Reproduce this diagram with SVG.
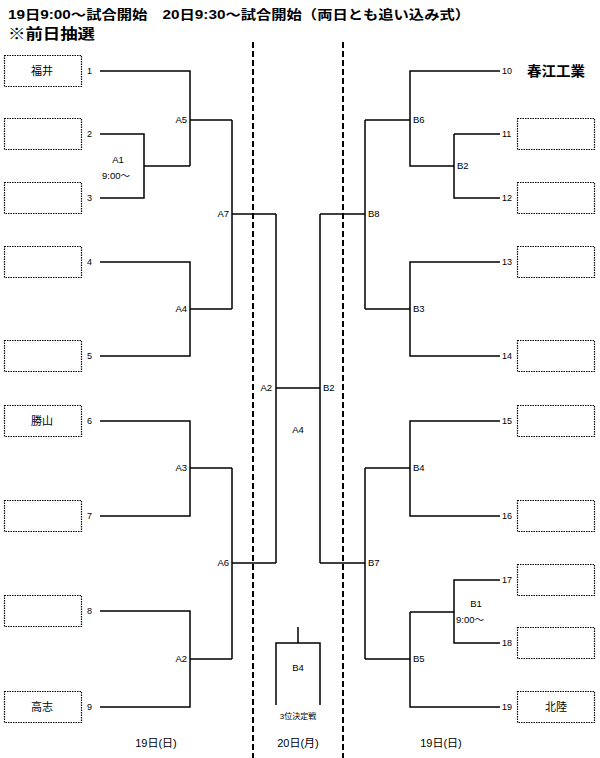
<svg xmlns="http://www.w3.org/2000/svg" width="600" height="758" viewBox="0 0 600 758">
<style>
text{font-family:"Liberation Sans","Noto Sans CJK JP",sans-serif;fill:#000}
.t1{font-size:13px;font-weight:bold}
.t2{font-size:15px;font-weight:bold}
.n{font-size:9px}
.m{font-size:9.5px}
.nm{font-size:11px;text-anchor:middle}
.c{fill:none;stroke:#000;stroke-width:1.5}
.box{fill:#fff;stroke:#000;stroke-width:1.2;stroke-dasharray:1.5 1}
.dash{stroke:#000;stroke-width:2;stroke-dasharray:6 3}
</style>
<rect width="600" height="758" fill="#fff"/>
<text class="t1" x="8" y="19" textLength="462" lengthAdjust="spacingAndGlyphs">19日9:00～試合開始　20日9:30～試合開始（両日とも追い込み式）</text>
<text class="t2" x="8" y="39" textLength="87" lengthAdjust="spacingAndGlyphs">※前日抽選</text>
<line class="dash" x1="253" y1="42" x2="253" y2="758"/>
<line class="dash" x1="343" y1="42" x2="343" y2="758"/>
<g id="connectors">
<path class="c" d="M100,71 H190 V166"/>
<path class="c" d="M100,134 H144 V198 H100 M144,166 H190 M190,120 H232"/>
<path class="c" d="M232,120 V309 M232,214 H276"/>
<path class="c" d="M100,262 H190 V356 H100 M190,309 H232"/>
<path class="c" d="M100,421 H190 V516 H100 M190,468 H232"/>
<path class="c" d="M100,611 H190 V707 H100 M190,659 H232"/>
<path class="c" d="M232,468 V659 M232,563 H276"/>
<path class="c" d="M276,214 V563 M276,388 H320 M320,214 V563"/>
<path class="c" d="M500,71 H410 V166 H454 M454,134 H500 M454,134 V198 H500 M410,120 H365"/>
<path class="c" d="M365,120 V309 M365,214 H320"/>
<path class="c" d="M500,262 H410 V356 H500 M410,309 H365"/>
<path class="c" d="M500,421 H410 V516 H500 M410,468 H365"/>
<path class="c" d="M500,580 H454 V643 H500 M454,612 H410"/>
<path class="c" d="M410,612 V707 H500 M410,659 H365"/>
<path class="c" d="M365,468 V659 M365,563 H320"/>
<path class="c" d="M298,627 V643 M276,705 V643 H320 V705"/>
</g>
<g id="left-teams">
<g id="t1"><rect class="box" x="4.5" y="55.5" width="77" height="31"/><text class="nm" x="42" y="75">福井</text><text class="n" x="87" y="74">1</text></g>
<g id="t2"><rect class="box" x="4.5" y="118.5" width="77" height="31"/><text class="n" x="87" y="137">2</text></g>
<g id="t3"><rect class="box" x="4.5" y="182.5" width="77" height="31"/><text class="n" x="87" y="201">3</text></g>
<g id="t4"><rect class="box" x="4.5" y="246.5" width="77" height="31"/><text class="n" x="87" y="265">4</text></g>
<g id="t5"><rect class="box" x="4.5" y="340.5" width="77" height="31"/><text class="n" x="87" y="359">5</text></g>
<g id="t6"><rect class="box" x="4.5" y="405.5" width="77" height="31"/><text class="nm" x="42" y="425">勝山</text><text class="n" x="87" y="424">6</text></g>
<g id="t7"><rect class="box" x="4.5" y="500.5" width="77" height="31"/><text class="n" x="87" y="519">7</text></g>
<g id="t8"><rect class="box" x="4.5" y="595.5" width="77" height="31"/><text class="n" x="87" y="614">8</text></g>
<g id="t9"><rect class="box" x="4.5" y="691.5" width="77" height="31"/><text class="nm" x="42" y="711">高志</text><text class="n" x="87" y="710">9</text></g>
</g>
<g id="right-teams">
<g id="t10"><text class="n" x="502" y="74">10</text><text x="527" y="76" style="font-size:14px;font-weight:bold" textLength="58" lengthAdjust="spacingAndGlyphs">春江工業</text></g>
<g id="t11"><rect class="box" x="517.5" y="118.5" width="77" height="31"/><text class="n" x="502" y="137">11</text></g>
<g id="t12"><rect class="box" x="517.5" y="182.5" width="77" height="31"/><text class="n" x="502" y="201">12</text></g>
<g id="t13"><rect class="box" x="517.5" y="246.5" width="77" height="31"/><text class="n" x="502" y="265">13</text></g>
<g id="t14"><rect class="box" x="517.5" y="340.5" width="77" height="31"/><text class="n" x="502" y="359">14</text></g>
<g id="t15"><rect class="box" x="517.5" y="405.5" width="77" height="31"/><text class="n" x="502" y="424">15</text></g>
<g id="t16"><rect class="box" x="517.5" y="500.5" width="77" height="31"/><text class="n" x="502" y="519">16</text></g>
<g id="t17"><rect class="box" x="517.5" y="564.5" width="77" height="31"/><text class="n" x="502" y="583">17</text></g>
<g id="t18"><rect class="box" x="517.5" y="627.5" width="77" height="31"/><text class="n" x="502" y="646">18</text></g>
<g id="t19"><rect class="box" x="517.5" y="691.5" width="77" height="31"/><text class="nm" x="556" y="711">北陸</text><text class="n" x="502" y="710">19</text></g>
</g>
<g id="match-labels" class="m">
<text x="187" y="123" text-anchor="end">A5</text>
<text x="118" y="163" text-anchor="middle">A1</text>
<text x="102" y="179">9:00～</text>
<text x="229" y="217" text-anchor="end">A7</text>
<text x="187" y="312" text-anchor="end">A4</text>
<text x="272" y="391" text-anchor="end">A2</text>
<text x="323" y="391">B2</text>
<text x="298" y="433" text-anchor="middle">A4</text>
<text x="187" y="471" text-anchor="end">A3</text>
<text x="229" y="566" text-anchor="end">A6</text>
<text x="187" y="662" text-anchor="end">A2</text>
<text x="413" y="123">B6</text>
<text x="457" y="169">B2</text>
<text x="368" y="217">B8</text>
<text x="413" y="312">B3</text>
<text x="413" y="471">B4</text>
<text x="368" y="566">B7</text>
<text x="476" y="607" text-anchor="middle">B1</text>
<text x="456" y="623">9:00～</text>
<text x="413" y="662">B5</text>
<text x="298" y="671" text-anchor="middle">B4</text>
<text x="298" y="719" text-anchor="middle" style="font-size:8px">3位決定戦</text>
</g>
<g id="day-labels" style="font-size:11px">
<text x="156" y="747" text-anchor="middle">19日(日)</text>
<text x="298" y="747" text-anchor="middle">20日(月)</text>
<text x="441" y="747" text-anchor="middle">19日(日)</text>
</g>
</svg>
